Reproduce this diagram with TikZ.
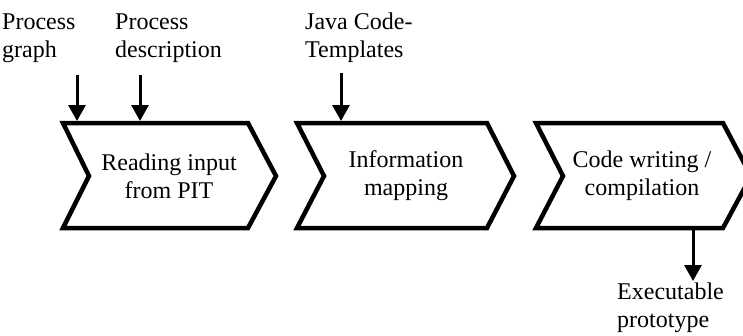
\documentclass[tikz,border=0pt]{standalone}
\usepackage{fontspec}
\setmainfont{Liberation Serif}
\usetikzlibrary{arrows.meta}
\begin{document}
\begin{tikzpicture}[x=1pt,y=-1pt,
  chev/.style={line width=4.5pt, line join=miter, fill=white},
  txt/.style={font=\fontsize{24}{28}\selectfont, inner sep=0pt},
  boxtext/.style={txt, align=center},
  lbl/.style={txt, align=left, anchor=base west},
  flow/.style={line width=3pt, -{Triangle[length=16pt,width=17pt]}}]
\useasboundingbox (0,0) rectangle (743,335);
\clip (0,0) rectangle (743,335);

% process steps
\draw[chev] (63,123) -- (248,123) -- (276,176) -- (248,228) -- (63,228) -- (89,176) -- cycle;
\draw[chev] (297,123) -- (487,123) -- (514,176) -- (487,228) -- (297,228) -- (324,176) -- cycle;
\draw[chev] (536,123) -- (723,123) -- (751,176) -- (723,228) -- (536,228) -- (563,176) -- cycle;

\node[boxtext] (read) at (169,176) {Reading input\\from PIT};
\node[boxtext] (map) at (406,176) {Information\\mapping};
\node[boxtext] (code) at (642,176) {Code writing /\\compilation};

% inputs and output (anchored at the baseline of the last line)
\node[lbl] (graph) at (2,57) {Process\\graph};
\node[lbl] (desc) at (115,57) {Process\\description};
\node[lbl] (tmpl) at (305,57) {Java Code-\\Templates};
\node[lbl] (exe) at (617,327) {Executable\\prototype};

\coordinate (graphsrc) at (77,75);
\coordinate (descsrc) at (140,75);
\coordinate (tmplsrc) at (341,73);
\coordinate (readin1) at (77,121);
\coordinate (readin2) at (140,121);
\coordinate (mapin) at (341,121);
\coordinate (codeout) at (693,230);
\coordinate (exein) at (693,281);

\draw[flow] (graphsrc) -- (readin1);
\draw[flow] (descsrc) -- (readin2);
\draw[flow] (tmplsrc) -- (mapin);
\draw[flow] (codeout) -- (exein);
\end{tikzpicture}
\end{document}
